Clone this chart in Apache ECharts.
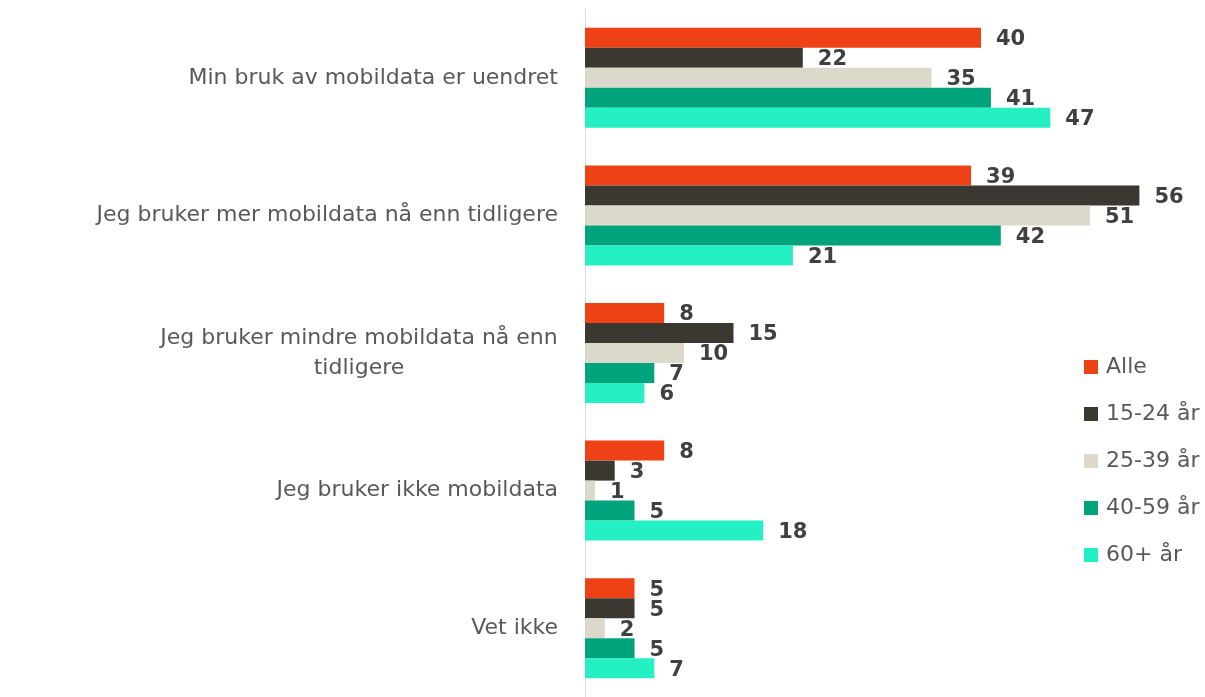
<!DOCTYPE html>
<html>
<head>
<meta charset="utf-8">
<script src="https://cdn.jsdelivr.net/npm/echarts@6/dist/echarts.min.js"></script>
<style>
  html, body { margin: 0; padding: 0; background: #fff; }
  #chart { width: 1205px; height: 697px; }
</style>
</head>
<body>
<div id="chart"></div>
<script>
const categories = [
  'Min bruk av mobildata er uendret',
  'Jeg bruker mer mobildata nå enn tidligere',
  'Jeg bruker mindre mobildata nå enn\ntidligere',
  'Jeg bruker ikke mobildata',
  'Vet ikke',
];
const seriesNames = ['Alle', '15-24 år', '25-39 år', '40-59 år', '60+ år'];
const alle = [40, 39, 8, 8, 5];
const age1524 = [22, 56, 15, 3, 5];
const age2539 = [35, 51, 10, 1, 2];
const age4059 = [41, 42, 7, 5, 5];
const age60 = [47, 21, 6, 18, 7];
const colors = ['#EF4116', '#3B3731', '#DCD9CA', '#00A37B', '#25F0C4'];

const font = 'DejaVu Sans, sans-serif';
const labelSize = 22;
const values = [alle, age1524, age2539, age4059, age60];

// width of the longest line, so wrapped labels can be centred under it
function lineWidth(text) {
  const ctx = document.createElement('canvas').getContext('2d');
  ctx.font = `${labelSize}px ${font}`;
  return Math.ceil(ctx.measureText(text).width);
}

const chart = echarts.init(document.getElementById('chart'));
chart.setOption({
  animation: false,
  grid: { left: 585, top: 9, width: 594, height: 690 },
  legend: {
    orient: 'vertical',
    left: 1079,
    top: 351,
    itemWidth: 14,
    itemHeight: 14,
    itemGap: 25,
    icon: 'rect',
    textStyle: { fontFamily: font, fontSize: 22, color: '#595959', padding: [0, 0, 0, 3] },
    data: seriesNames,
  },
  xAxis: {
    type: 'value', min: 0, max: 60,
    axisLabel: { show: false }, splitLine: { show: false },
    axisLine: { show: false }, axisTick: { show: false },
  },
  yAxis: {
    type: 'category', inverse: true, data: categories,
    axisLine: { lineStyle: { color: '#d9d9d9', width: 1 } },
    axisTick: { show: false },
    axisLabel: {
      margin: 27, fontFamily: font, fontSize: labelSize, color: '#595959', lineHeight: 30,
      formatter: (v) => {
        if (!v.includes('\n')) return v;
        const lines = v.split('\n');
        const w = Math.max(...lines.map(lineWidth));
        return lines.map((l) => `{c${w}|${l}}`).join('\n');
      },
      rich: Object.fromEntries(categories.filter((c) => c.includes('\n')).map((c) => {
        const w = Math.max(...c.split('\n').map(lineWidth));
        return [`c${w}`, { width: w, align: 'center', fontFamily: font, fontSize: labelSize, color: '#595959', lineHeight: 30 }];
      })),
    },
  },
  series: seriesNames.map((name, i) => ({
    name,
    type: 'bar',
    data: values[i],
    barWidth: 20,
    barGap: '0%',
    itemStyle: { color: colors[i] },
    label: {
      show: true, position: 'right', distance: 15, offset: [0, 2],
      fontFamily: font, fontWeight: 'bold', fontSize: 21, color: '#404040',
    },
  })),
});
</script>
</body>
</html>
